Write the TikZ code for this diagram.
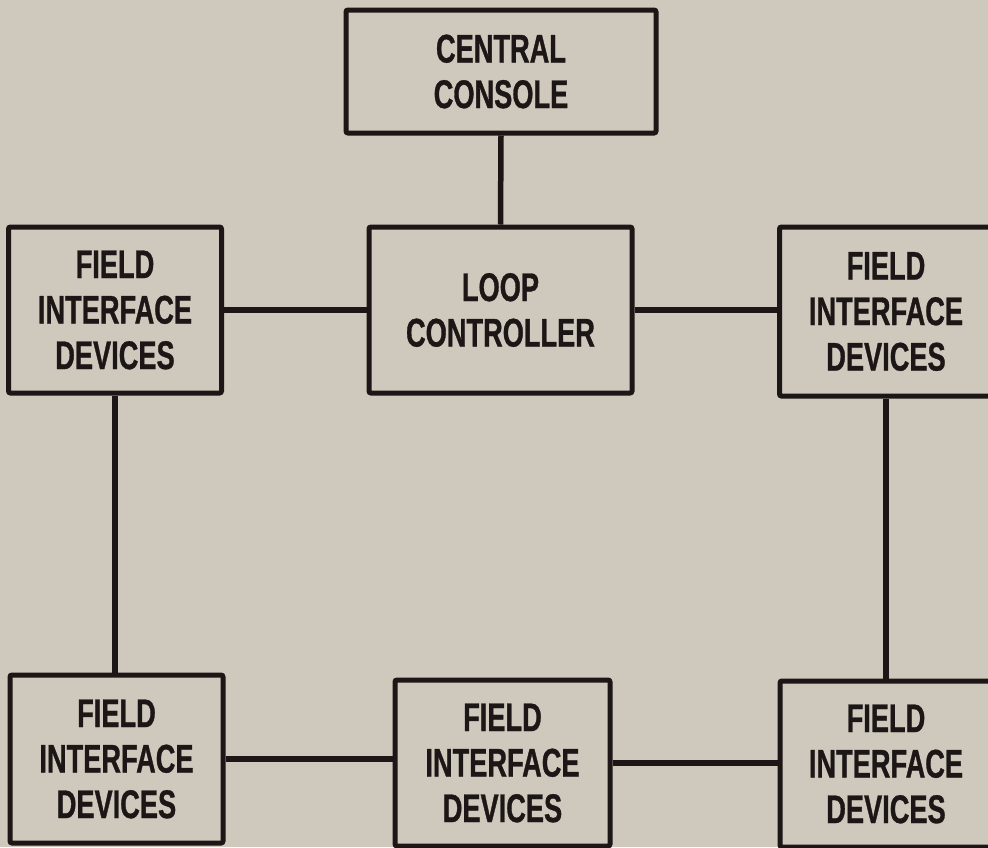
\documentclass[tikz,border=0pt]{standalone}
\usepackage{fontspec}
\setmainfont{Liberation Sans}[FakeStretch=0.68, FakeBold=0.8]
\definecolor{paper}{RGB}{206,201,188}
\definecolor{ink}{RGB}{28,22,22}
\begin{document}
\begin{tikzpicture}[x=1pt,y=-1pt,
  block/.style={draw=ink, line width=5pt, rounded corners=2pt, align=center,
    text=ink, inner sep=0pt,
    font=\fontsize{40}{45.5}\selectfont\bfseries},
  fid/.style={block, minimum width=213pt, minimum height=166pt},
  wire/.style={draw=ink, line width=5.5pt}]
  % paper background fixes the page size
  \fill[paper] (0,0) rectangle (988,847);
  \useasboundingbox (0,0) rectangle (988,847);

  % blocks
  \node[block, minimum width=310pt, minimum height=123pt] (cc) at (501,71.5) {CENTRAL\\CONSOLE};
  \node[block, minimum width=263pt, minimum height=166pt] (lc) at (500.5,310) {LOOP\\CONTROLLER};
  \node[fid] (tl) at (115,310) {FIELD\\INTERFACE\\DEVICES};
  \node[fid, minimum height=169pt] (tr) at (886,311.5) {FIELD\\INTERFACE\\DEVICES};
  \node[fid, minimum height=168pt] (bl) at (116.5,759) {FIELD\\INTERFACE\\DEVICES};
  \node[fid, minimum width=215pt] (bm) at (502.5,763) {FIELD\\INTERFACE\\DEVICES};
  \node[fid, minimum width=212pt] (br) at (886,764) {FIELD\\INTERFACE\\DEVICES};

  % connectors
  \draw[wire] (cc.south) -- (lc.north);
  \draw[wire] (tl.east) -- (lc.west);
  \draw[wire] (lc.east) -- (lc.east -| tr.west);
  \draw[wire] (tl.south) -- (tl.south |- bl.north);
  \draw[wire] (tr.south) -- (tr.south |- br.north);
  \draw[wire, line width=6.5pt] (bl.east) -- (bl.east -| bm.west);
  \draw[wire, line width=6.5pt] (bm.east) -- (bm.east -| br.west);
\end{tikzpicture}
\end{document}
